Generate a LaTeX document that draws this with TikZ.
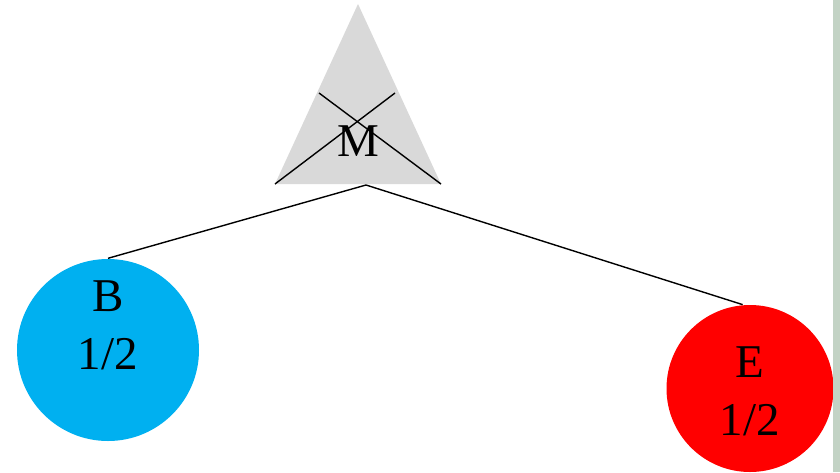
\documentclass[tikz,border=0pt]{standalone}
\usepackage{fontspec}
\setmainfont{Liberation Serif}
\usepackage{tikz}
\usetikzlibrary{positioning}
\definecolor{rootgrey}{HTML}{D9D9D9}
\definecolor{skyball}{HTML}{00B0F0}
\definecolor{redball}{HTML}{FF0000}
\definecolor{margin}{HTML}{C3D3C5}

\begin{document}
\begin{tikzpicture}[x=1pt,y=-1pt,line width=1.4pt,font=\fontsize{47}{58}\selectfont]
  \useasboundingbox (0,0) rectangle (840,472);
  \tikzset{ball/.style={circle,inner sep=0pt,draw=none}}
  % crossed-out root
  \fill[rootgrey] (358,4) -- (441,184) -- (275,184) -- cycle;
  \draw (275,184) -- (395,93);
  \draw (319,93) -- (441,184);
  \node[inner sep=0pt] (M) at (358,141) {M};
  \coordinate (root) at (366,185);
  % leaves
  \node[ball,fill=skyball,minimum size=182pt] (B) at (108,350) {};
  \node[ball,fill=redball,minimum size=167pt] (E) at (750,388.5) {};
  \node[inner sep=0pt,align=center] (Bt) at (108,325) {B\\1/2};
  \node[inner sep=0pt,align=center] (Et) at (750,391) {E\\1/2};
  \draw (root) -- (B.north);
  \draw (root) -- (E.95);
  \fill[margin] (833,0) rectangle (840,472);
\end{tikzpicture}
\end{document}
